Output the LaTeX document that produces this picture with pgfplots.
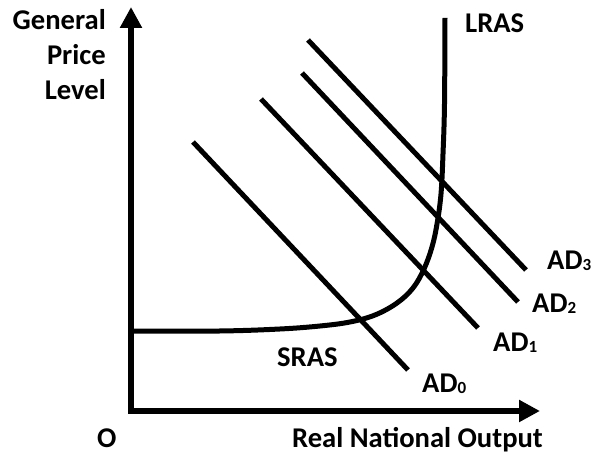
\documentclass[border=0pt]{standalone}
\usepackage{pgfplots}
\pgfplotsset{compat=1.18}
\usepackage{fontspec}
\setmainfont{Carlito}
\usetikzlibrary{arrows.meta}
\newcommand{\sub}[1]{{\fontsize{17}{17}\selectfont\raisebox{-1pt}{#1}}}
\tikzset{lbl/.style={font=\fontsize{28.6}{28.6}\selectfont\bfseries, inner sep=0pt}}
\begin{document}
\begin{tikzpicture}
\begin{axis}[
  x=1pt, y=1pt,
  xmin=131, xmax=540, ymin=43, ymax=447,
  axis lines=left,
  ticks=none,
  clip=false,
  axis line style={line width=6pt, line cap=rect, -{Triangle[width=21pt,length=21pt]}},
]
\path (axis cs:0,0) rectangle (axis cs:600,454);
% AD curves
\addplot[black, line width=5pt] coordinates {(193,312) (408,84)};
\addplot[black, line width=5pt] coordinates {(261,355) (478,126)};
\addplot[black, line width=5pt] coordinates {(302,381) (518,152)};
\addplot[black, line width=5pt] coordinates {(308,414) (526,184)};
% SRAS / LRAS curve
\addplot[black, line width=5pt, smooth, tension=0.6] coordinates {
 (131,123) (220,123) (280,125) (320,128) (350,132) (375,139) (397,151)
 (413,166) (424,185) (432,207) (437,230) (441,260) (443,300) (444.5,350) (445,436)};
% labels
\node[lbl, anchor=base east] at (axis cs:106,424) {General};
\node[lbl, anchor=base east] at (axis cs:106,389) {Price};
\node[lbl, anchor=base east] at (axis cs:106,354) {Level};
\node[lbl, anchor=base west] at (axis cs:465,421) {LRAS};
\node[lbl, anchor=base west] at (axis cs:547,184) {AD\sub{3}};
\node[lbl, anchor=base west] at (axis cs:532,141) {AD\sub{2}};
\node[lbl, anchor=base west] at (axis cs:493,102) {AD\sub{1}};
\node[lbl, anchor=base west] at (axis cs:422,61) {AD\sub{0}};
\node[lbl, anchor=base west] at (axis cs:277,87) {SRAS};
\node[lbl, anchor=base west] at (axis cs:97,6) {O};
\node[lbl, anchor=base east] at (axis cs:543,6) {Real National Output};
\end{axis}
\end{tikzpicture}
\end{document}
